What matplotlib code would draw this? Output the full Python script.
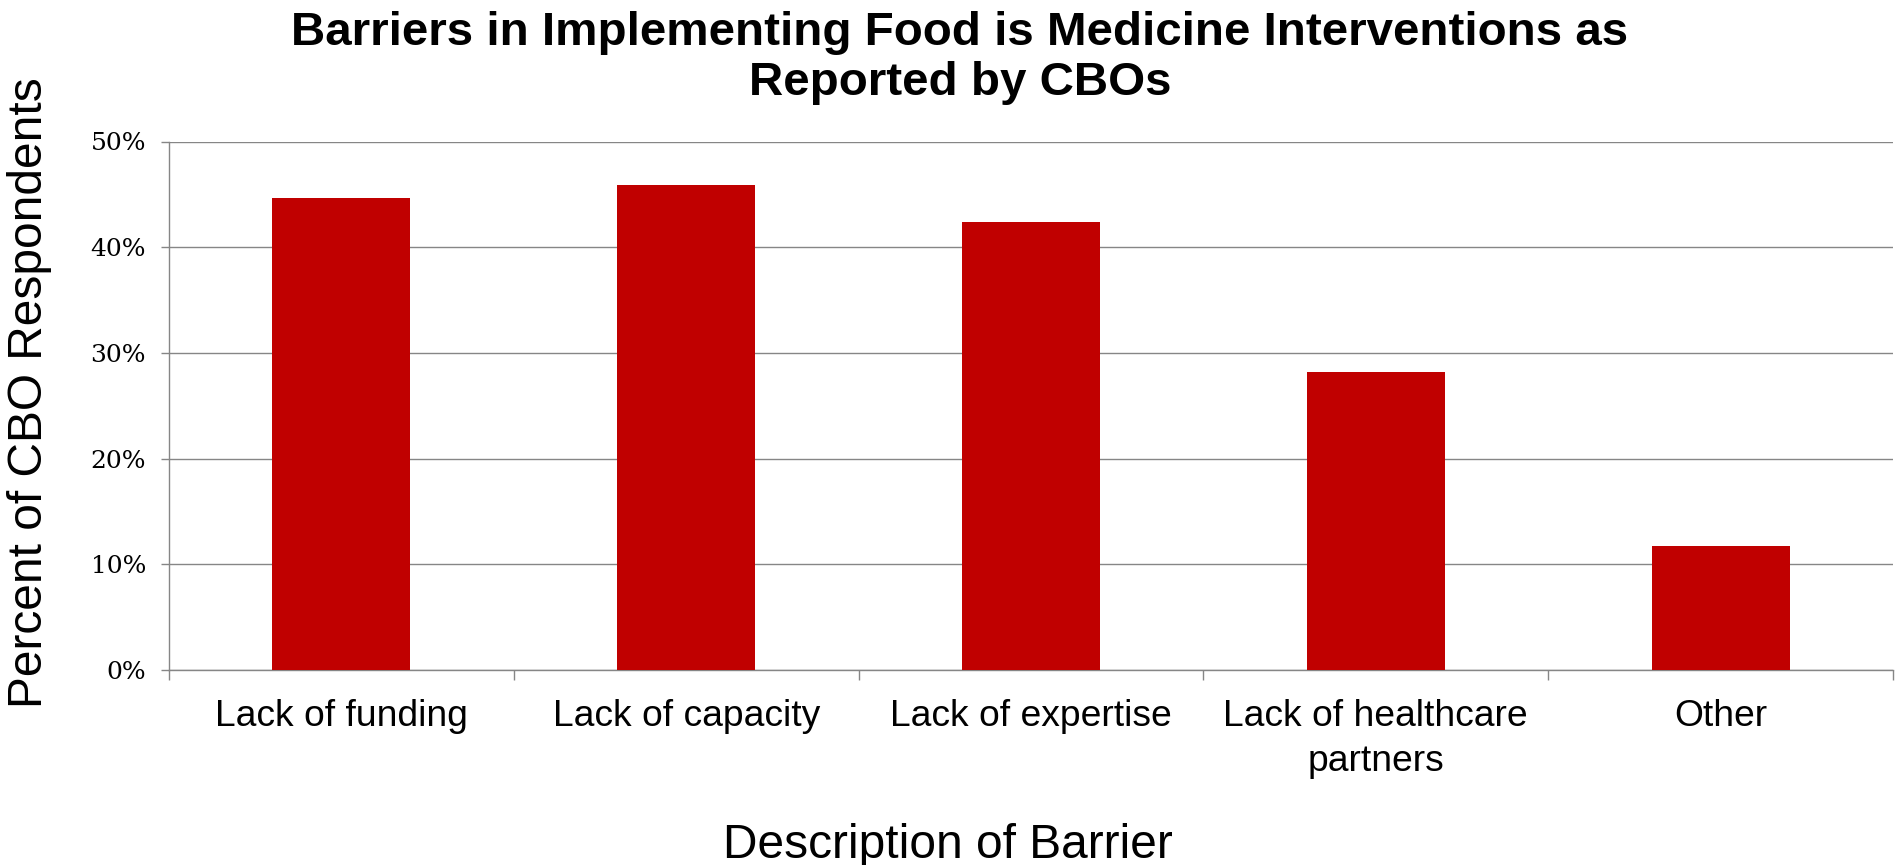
import numpy as np
import matplotlib.pyplot as plt
from matplotlib.ticker import FixedLocator, PercentFormatter

# Daten
categories = ["Lack of funding", "Lack of capacity", "Lack of expertise",
              "Lack of healthcare\npartners", "Other"]
percent_values = [44.7, 45.9, 42.4, 28.2, 11.7]
y_ticks = [0, 10, 20, 30, 40, 50]

bar_color = "#C00000"
grid_color = "#868686"

fig = plt.figure(figsize=(18.96, 8.65), dpi=100)
ax = fig.add_axes([169 / 1896, 1 - 670 / 865, (1893 - 169) / 1896, (670 - 141.5) / 865])

x = np.arange(len(categories))
ax.bar(x, percent_values, width=0.4, color=bar_color, zorder=3)

ax.set_xlim(-0.5, len(categories) - 0.5)
ax.set_ylim(0, 50)
ax.set_yticks(y_ticks)
ax.yaxis.set_major_formatter(PercentFormatter(decimals=0))
ax.grid(axis="y", color=grid_color, linewidth=1.0, zorder=0)

ax.set_xticks(x)
ax.set_xticklabels(categories, fontsize=26.8, family="Liberation Sans", linespacing=1.38)
ax.xaxis.set_minor_locator(FixedLocator(np.arange(-0.5, len(categories), 1.0)))
ax.tick_params(axis="x", which="major", length=0, pad=21)
ax.tick_params(axis="x", which="minor", length=7, width=1.0, color=grid_color, direction="out")
ax.tick_params(axis="y", length=5.5, width=1.0, color=grid_color, pad=11)
for lab in ax.get_yticklabels():
    lab.set_fontsize(18)
    lab.set_family("DejaVu Serif")

for side in ["top", "right"]:
    ax.spines[side].set_visible(False)
for side in ["left", "bottom"]:
    ax.spines[side].set_color(grid_color)
    ax.spines[side].set_linewidth(1.0)

# Titel und Achsenbeschriftungen
fig.text(960 / 1896, 1 - 58 / 865,
         "Barriers in Implementing Food is Medicine Interventions as\nReported by CBOs",
         ha="center", va="center", fontsize=34.2, fontweight="bold",
         family="Liberation Sans", linespacing=1.18)
fig.text(30 / 1896, 1 - 393 / 865, "Percent of CBO Respondents", rotation=90,
         ha="center", va="center", fontsize=34.5, family="Liberation Sans")
fig.text(948 / 1896, 1 - 845 / 865, "Description of Barrier",
         ha="center", va="center", fontsize=34.5, family="Liberation Sans")

fig.savefig("out.png", dpi=100)
